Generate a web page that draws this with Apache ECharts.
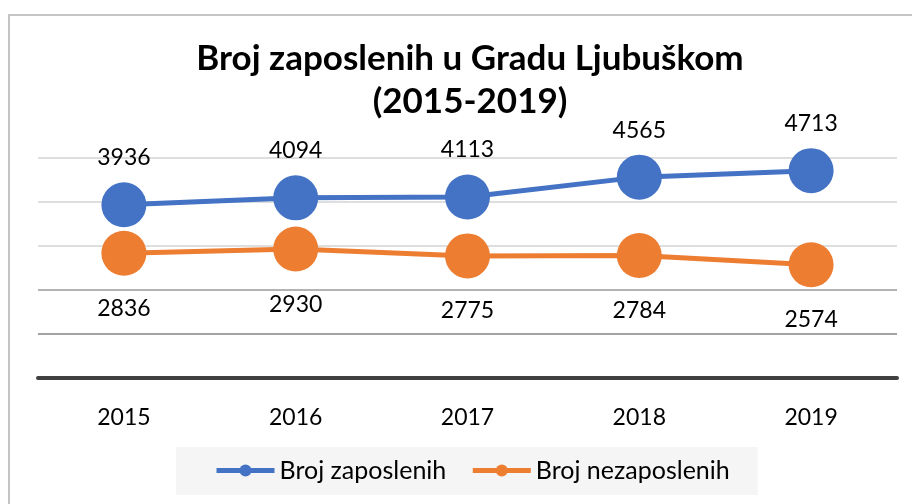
<!DOCTYPE html>
<html>
<head>
<meta charset="utf-8">
<script src="https://cdn.jsdelivr.net/npm/echarts@6/dist/echarts.min.js"></script>
<style>
  html, body { margin: 0; padding: 0; background: #fff; }
  #chart { width: 912px; height: 504px; }
</style>
</head>
<body>
<div id="chart"></div>
<script>
// podaci
const years = ['2015', '2016', '2017', '2018', '2019']
const zaposleni = [3936, 4094, 4113, 4565, 4713]
const nezaposleni = [2836, 2930, 2775, 2784, 2574]
const seriesNames = ['Broj zaposlenih', 'Broj nezaposlenih']

const font = 'Lato, "Open Sans", sans-serif'

let myChart = echarts.init(document.getElementById('chart'))
myChart.setOption({
  animation: false,
  color: ['#4472C4', '#ED7D31'],
  textStyle: { fontFamily: font },
  title: {
    text: 'Broj zaposlenih u Gradu Ljubuškom\n(2015-2019)',
    left: 470,
    textAlign: 'center',
    top: 37,
    padding: 0,
    textStyle: {
      fontFamily: font,
      fontSize: 35,
      fontWeight: 'bold',
      color: '#000',
      lineHeight: 43
    }
  },
  graphic: [
    {
      type: 'rect',
      shape: { x: 9, y: 15, width: 960, height: 600 },
      style: { fill: 'none', stroke: '#C4C4C4', lineWidth: 2 },
      silent: true
    }
  ],
  legend: {
    left: 176,
    top: 447,
    padding: [11, 28, 12, 38],
    backgroundColor: '#F5F5F5',
    itemWidth: 58,
    itemHeight: 15,
    itemGap: 24,
    lineStyle: { width: 5 },
    textStyle: { fontFamily: font, fontSize: 25, color: '#000' },
    data: seriesNames
  },
  grid: {
    left: 38,
    right: 15,
    top: 158,
    bottom: 126
  },
  xAxis: {
    type: 'category',
    data: years,
    axisTick: { show: false },
    axisLine: {
      lineStyle: { color: '#404040', width: 4 }
    },
    axisLabel: {
      margin: 28,
      fontSize: 23,
      color: '#000',
      fontFamily: font
    }
  },
  yAxis: {
    type: 'value',
    min: 0,
    max: 5000,
    interval: 1000,
    axisLabel: { show: false },
    axisLine: { show: false },
    axisTick: { show: false },
    splitLine: {
      lineStyle: {
        color: ['#404040', '#A3A3A3', '#B3B3B3', '#DEDEDE', '#DEDEDE', '#DEDEDE'],
        width: 2
      }
    }
  },
  series: [
    {
      name: seriesNames[0],
      type: 'line',
      data: zaposleni,
      symbol: 'circle',
      symbolSize: 45,
      lineStyle: { width: 5 },
      label: {
        show: true,
        position: 'top',
        distance: 13,
        fontSize: 23,
        color: '#000',
        fontFamily: font
      }
    },
    {
      name: seriesNames[1],
      type: 'line',
      data: nezaposleni,
      symbol: 'circle',
      symbolSize: 45,
      lineStyle: { width: 5 },
      label: {
        show: true,
        position: 'bottom',
        distance: 21,
        fontSize: 23,
        color: '#000',
        fontFamily: font
      }
    }
  ]
})
</script>
</body>
</html>
